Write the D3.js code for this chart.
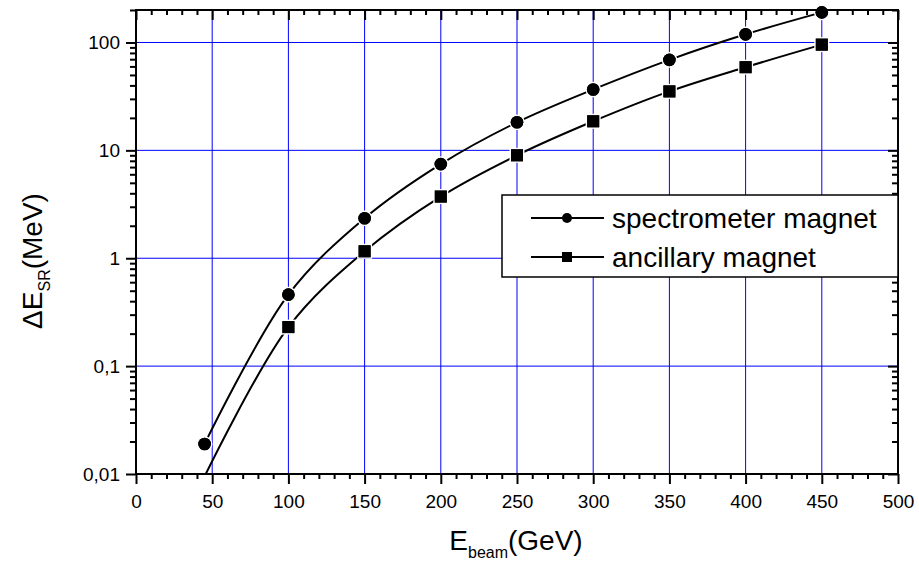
<!DOCTYPE html>
<html>
<head>
<meta charset="utf-8">
<script src="https://cdn.jsdelivr.net/npm/d3@7"></script>
<style>
  html, body { margin: 0; padding: 0; background: #fff; }
  svg { display: block; font-family: "Liberation Sans", Arial, sans-serif; }
</style>
</head>
<body>
<svg id="chart" width="919" height="565"></svg>
<script>
// ---- data ----
const energies = [45, 100, 150, 200, 250, 300, 350, 400, 450];
const spectrometer = [0.019, 0.46, 2.35, 7.46, 18.2, 36.7, 69, 119, 190];
const ancillary = [0.0095, 0.23, 1.16, 3.73, 9.0, 18.6, 35.2, 59, 95.5];
const seriesNames = ["spectrometer magnet", "ancillary magnet"];
const xTickValues = [0, 50, 100, 150, 200, 250, 300, 350, 400, 450, 500];
const yTickValues = [0.01, 0.1, 1, 10, 100];
const yTickLabels = ["0,01", "0,1", "1", "10", "100"];

// ---- layout ----
const svg = d3.select("#chart");
const L = 136, T = 10, R = 898, B = 474;
const x = d3.scaleLinear().domain([0, 500]).range([L, R]);
const y = d3.scaleLog().domain([0.01, 200]).range([B, T]);

// grid
const grid = svg.append("g");
grid.selectAll("line.vx").data(xTickValues.filter(v => v > 0 && v < 500)).enter()
  .append("line").attr("x1", d => x(d)).attr("x2", d => x(d)).attr("y1", T).attr("y2", B)
  .attr("stroke", "#0000ff").attr("stroke-width", 1);
grid.selectAll("line.hy").data(yTickValues.filter(v => v > 0.01)).enter()
  .append("line").attr("x1", L).attr("x2", R).attr("y1", d => y(d)).attr("y2", d => y(d))
  .attr("stroke", "#0000ff").attr("stroke-width", 1);

// minor tick values
const xMinor = d3.range(0, 501, 10).filter(v => v % 50 !== 0);
const yMinor = [];
[0.01, 0.1, 1, 10, 100].forEach(dec => { for (let k = 2; k <= 9; k++) { const v = dec * k; if (v <= 200) yMinor.push(v); } });

// axes
const fmtY = d => yTickLabels[yTickValues.indexOf(d)];
function styleAxis(g) {
  g.select(".domain").remove();
  g.selectAll(".tick line").attr("stroke", "#000").attr("stroke-width", 2);
  g.selectAll(".tick text").attr("fill", "#000").attr("font-size", 19)
   .attr("font-family", '"Liberation Sans", Arial, sans-serif');
}
// bottom
svg.append("g").attr("transform", `translate(0,${B})`)
  .call(d3.axisBottom(x).tickValues(xMinor).tickSize(5).tickFormat(""))
  .call(styleAxis);
svg.append("g").attr("transform", `translate(0,${B})`)
  .call(d3.axisBottom(x).tickValues(xTickValues).tickSize(10).tickPadding(11).tickFormat(d3.format("d")))
  .call(styleAxis);
// top (inward)
svg.append("g").attr("transform", `translate(0,${T})`)
  .call(d3.axisBottom(x).tickValues(xMinor).tickSize(5).tickFormat(""))
  .call(styleAxis);
svg.append("g").attr("transform", `translate(0,${T})`)
  .call(d3.axisBottom(x).tickValues(xTickValues).tickSize(10).tickFormat(""))
  .call(styleAxis);
// left
svg.append("g").attr("transform", `translate(${L},0)`)
  .call(d3.axisLeft(y).tickValues(yMinor).tickSize(6).tickFormat(""))
  .call(styleAxis);
svg.append("g").attr("transform", `translate(${L},0)`)
  .call(d3.axisLeft(y).tickValues(yTickValues).tickSize(10).tickPadding(6).tickFormat(fmtY))
  .call(styleAxis);
// right (inward)
svg.append("g").attr("transform", `translate(${R},0)`)
  .call(d3.axisLeft(y).tickValues(yMinor).tickSize(6).tickFormat(""))
  .call(styleAxis);
svg.append("g").attr("transform", `translate(${R},0)`)
  .call(d3.axisLeft(y).tickValues(yTickValues).tickSize(10).tickFormat(""))
  .call(styleAxis);

// series
svg.append("defs").append("clipPath").attr("id", "clip")
  .append("rect").attr("x", L).attr("y", T - 8).attr("width", R - L).attr("height", B - T + 8);
const plot = svg.append("g").attr("clip-path", "url(#clip)");
const line = d3.line().x(d => x(d[0])).y(d => y(d[1])).curve(d3.curveCatmullRom.alpha(0.5));
const dataS = energies.map((e, i) => [e, spectrometer[i]]);
const dataA = energies.map((e, i) => [e, ancillary[i]]);
[dataS, dataA].forEach(ds => {
  plot.append("path").datum(ds).attr("d", line).attr("fill", "none")
    .attr("stroke", "#000").attr("stroke-width", 2);
});
plot.selectAll("circle.s").data(dataS).enter().append("circle")
  .attr("cx", d => x(d[0])).attr("cy", d => y(d[1])).attr("r", 6.3)
  .attr("fill", "#000").attr("stroke", "#fff").attr("stroke-width", 3).attr("paint-order", "stroke");
plot.selectAll("rect.a").data(dataA.filter(d => d[1] >= 0.01)).enter().append("rect")
  .attr("x", d => x(d[0]) - 6).attr("y", d => y(d[1]) - 6).attr("width", 12).attr("height", 12)
  .attr("fill", "#000").attr("stroke", "#fff").attr("stroke-width", 3).attr("paint-order", "stroke");
// redraw markers without halo stroke over the white ring
plot.selectAll("circle.s2").data(dataS).enter().append("circle")
  .attr("cx", d => x(d[0])).attr("cy", d => y(d[1])).attr("r", 6.3).attr("fill", "#000");
plot.selectAll("rect.a2").data(dataA.filter(d => d[1] >= 0.01)).enter().append("rect")
  .attr("x", d => x(d[0]) - 6).attr("y", d => y(d[1]) - 6).attr("width", 12).attr("height", 12).attr("fill", "#000");

// frame
svg.append("rect").attr("x", L).attr("y", T).attr("width", R - L).attr("height", B - T)
  .attr("fill", "none").attr("stroke", "#000").attr("stroke-width", 2);

// legend
const lg = svg.append("g");
lg.append("rect").attr("x", 502).attr("y", 195).attr("width", R - 502).attr("height", 82)
  .attr("fill", "#fff").attr("stroke", "#000").attr("stroke-width", 1.5);
const rows = [218, 257];
seriesNames.forEach((name, i) => {
  const yy = rows[i];
  lg.append("line").attr("x1", 531).attr("x2", 604).attr("y1", yy).attr("y2", yy)
    .attr("stroke", "#000").attr("stroke-width", 2);
  if (i === 0) lg.append("circle").attr("cx", 567).attr("cy", yy).attr("r", 5).attr("fill", "#000");
  else lg.append("rect").attr("x", 562).attr("y", yy - 5).attr("width", 10).attr("height", 10).attr("fill", "#000");
  lg.append("text").attr("x", 612).attr("y", yy + 10).attr("font-size", 28).attr("fill", "#000").text(name);
});

// axis titles
const xt = svg.append("text").attr("x", 516).attr("y", 550).attr("text-anchor", "middle")
  .attr("font-size", 28).attr("fill", "#000");
xt.append("tspan").text("E");
xt.append("tspan").attr("font-size", 16).attr("dy", 8).text("beam");
xt.append("tspan").attr("dy", -8).text("(GeV)");

const yt = svg.append("text").attr("transform", "translate(42,261) rotate(-90)")
  .attr("text-anchor", "middle").attr("font-size", 28).attr("fill", "#000");
yt.append("tspan").text("ΔE");
yt.append("tspan").attr("font-size", 16).attr("dy", 8).text("SR");
yt.append("tspan").attr("dy", -8).text("(MeV)");
</script>
</body>
</html>
